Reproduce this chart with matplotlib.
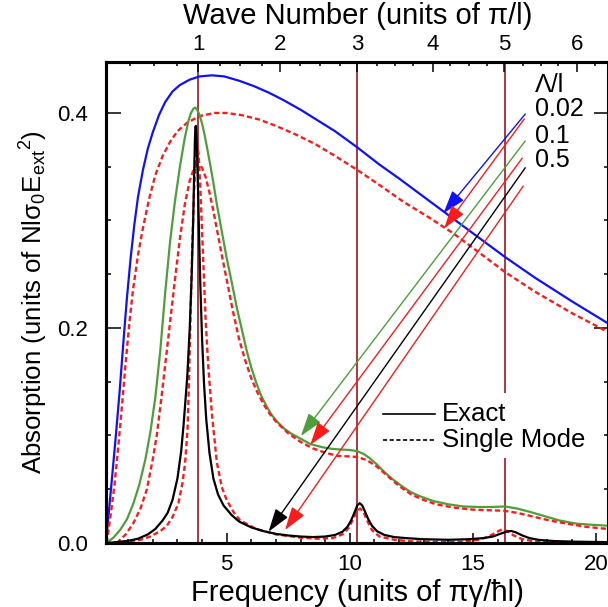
import matplotlib
matplotlib.use("Agg")
import matplotlib.pyplot as plt
from matplotlib.lines import Line2D
from matplotlib.patches import Rectangle

plt.rcParams['font.family'] = ['Liberation Sans', 'DejaVu Sans']

# ---------------- data ----------------
blue_x = [0.1, 0.2, 0.35, 0.5, 0.65, 0.8, 0.95, 1.1, 1.25, 1.4, 1.6, 1.8, 2.0, 2.25, 2.5, 2.8,
          3.1, 3.5, 3.9, 4.4, 4.9, 5.5, 6.1, 6.7, 7.3, 8.0, 8.7, 9.4, 10.3, 11.2, 12.0, 13.0,
          14.0, 15.0, 16.3, 17.5, 19.0, 20.5]
blue_y = [0.0, 0.025, 0.062, 0.1, 0.14, 0.185, 0.228, 0.265, 0.296, 0.322, 0.347, 0.367, 0.382,
          0.398, 0.41, 0.42, 0.426, 0.431, 0.434, 0.435, 0.434, 0.43, 0.425, 0.419, 0.412,
          0.403, 0.393, 0.383, 0.368, 0.352, 0.339, 0.322, 0.305, 0.288, 0.266, 0.247, 0.225,
          0.204]

red02_x = [0.13, 0.3, 0.45, 0.6, 0.75, 0.9, 1.05, 1.2, 1.4, 1.6, 1.85, 2.1, 2.4, 2.7, 3.0, 3.4,
           3.9, 4.5, 5.0, 5.6, 6.3, 7.0, 7.8, 8.6, 9.4, 10.3, 11.2, 12.2, 13.2, 14.2, 15.2, 16.3,
           17.5, 19.0, 20.5]
red02_y = [0.0, 0.028, 0.055, 0.09, 0.128, 0.168, 0.205, 0.236, 0.268, 0.293, 0.32, 0.342, 0.36,
           0.373, 0.383, 0.391, 0.397, 0.4, 0.4, 0.398, 0.394, 0.388, 0.38, 0.371, 0.36, 0.347,
           0.333, 0.317, 0.303, 0.288, 0.271, 0.252, 0.234, 0.214, 0.196]

green_x = [0.13, 0.4, 0.67, 0.95, 1.2, 1.45, 1.7, 1.9, 2.1, 2.3, 2.5, 2.7, 2.9, 3.1, 3.3, 3.45,
           3.55, 3.65, 3.72, 3.8, 3.9, 4.0, 4.1, 4.2, 4.33, 4.46, 4.6, 4.8, 5.0, 5.2, 5.4, 5.6,
           5.8, 6.0, 6.2, 6.4, 6.6, 6.8, 7.0, 7.3, 7.6, 8.0, 8.4, 8.9, 9.3, 9.6, 10.0, 10.28,
           10.55, 10.8, 11.1, 11.4, 11.7, 12.1, 12.5, 12.9, 13.4, 14.0, 14.6, 15.2, 15.8, 16.3,
           16.8, 17.3, 17.9, 18.5, 19.2, 19.8, 20.5]
green_y = [0.0, 0.005, 0.012, 0.022, 0.036, 0.054, 0.078, 0.103, 0.135, 0.178, 0.232, 0.28,
           0.318, 0.35, 0.377, 0.393, 0.4, 0.404, 0.405, 0.403, 0.398, 0.39, 0.38, 0.368, 0.352,
           0.335, 0.315, 0.29, 0.265, 0.243, 0.22, 0.2, 0.18, 0.163, 0.149, 0.137, 0.128, 0.12,
           0.114, 0.107, 0.102, 0.097, 0.092, 0.089, 0.0875, 0.087, 0.0865, 0.0855, 0.083, 0.079,
           0.073, 0.066, 0.06, 0.053, 0.047, 0.043, 0.039, 0.036, 0.034, 0.0335, 0.0335, 0.034,
           0.032, 0.029, 0.025, 0.021, 0.018, 0.017, 0.016]

red01_x = [0.54, 0.9, 1.2, 1.5, 1.76, 2.0, 2.16, 2.35, 2.5, 2.7, 2.9, 3.1, 3.3, 3.5, 3.65, 3.8,
           3.9, 4.0, 4.15, 4.3, 4.45, 4.6, 4.8, 5.0, 5.25, 5.5, 5.75, 6.0, 6.25, 6.5, 6.75, 7.0,
           7.5, 8.0, 8.5, 9.0, 9.5, 10.0, 10.3, 10.7, 11.1, 11.5, 12.0, 12.5, 13.0, 13.5, 14.2,
           15.0, 15.6, 16.25, 16.8, 17.45, 18.1, 18.8, 19.6, 20.5]
red01_y = [0.0, 0.008, 0.018, 0.032, 0.05, 0.078, 0.1, 0.135, 0.165, 0.205, 0.245, 0.283, 0.315,
           0.337, 0.347, 0.352, 0.352, 0.349, 0.34, 0.326, 0.31, 0.292, 0.268, 0.245, 0.216,
           0.19, 0.17, 0.153, 0.14, 0.129, 0.12, 0.113, 0.102, 0.094, 0.088, 0.084, 0.081,
           0.0805, 0.08, 0.077, 0.071, 0.063, 0.053, 0.045, 0.04, 0.036, 0.033, 0.031, 0.0305,
           0.03, 0.028, 0.0245, 0.021, 0.018, 0.015, 0.013]

black_x = [0.13, 0.6, 1.0, 1.4, 1.8, 2.1, 2.4, 2.6, 2.8, 3.0, 3.15, 3.25, 3.3, 3.4, 3.5, 3.58,
           3.64, 3.68, 3.71, 3.73, 3.75, 3.77, 3.8, 3.84, 3.88, 3.93, 4.0, 4.08, 4.17, 4.3, 4.46,
           4.65, 4.87, 5.2, 5.5, 6.0, 6.5, 7.0, 7.5, 8.0, 8.5, 9.0, 9.4, 9.7, 9.9, 10.05, 10.2,
           10.3, 10.4, 10.5, 10.6, 10.75, 10.9, 11.1, 11.4, 11.8, 12.3, 13.0, 14.0, 14.8, 15.4,
           15.8, 16.1, 16.35, 16.55, 16.75, 17.0, 17.3, 17.7, 18.3, 19.2, 20.5]
black_y = [0.0, 0.001, 0.002, 0.004, 0.008, 0.013, 0.021, 0.028, 0.04, 0.06, 0.085, 0.11, 0.125,
           0.155, 0.2, 0.25, 0.3, 0.345, 0.375, 0.387, 0.388, 0.38, 0.36, 0.325, 0.285, 0.24,
           0.19, 0.148, 0.115, 0.084, 0.06, 0.045, 0.035, 0.026, 0.02, 0.0145, 0.011, 0.0085,
           0.007, 0.006, 0.0055, 0.006, 0.0075, 0.0105, 0.015, 0.021, 0.029, 0.035, 0.037,
           0.035, 0.03, 0.022, 0.016, 0.011, 0.0075, 0.0055, 0.0045, 0.0035, 0.003, 0.0035,
           0.0045, 0.006, 0.0085, 0.0105, 0.0112, 0.0098, 0.007, 0.0045, 0.0028, 0.0018,
           0.0012, 0.0008]

red05_x = [0.4, 1.0, 1.5, 1.89, 2.3, 2.57, 2.8, 3.04, 3.2, 3.31, 3.41, 3.47, 3.53, 3.6, 3.67,
           3.74, 3.8, 3.86, 3.93, 4.0, 4.07, 4.15, 4.25, 4.4, 4.6, 4.8, 5.0, 5.3, 5.55, 6.2, 7.0,
           8.0, 8.7, 9.3, 9.7, 9.95, 10.15, 10.3, 10.42, 10.55, 10.7, 10.9, 11.2, 11.8, 12.5,
           13.5, 14.5, 15.2, 15.6, 15.9, 16.17, 16.4, 16.65, 17.0, 17.5, 18.5, 20.5]
red05_y = [0.0, 0.0015, 0.003, 0.006, 0.011, 0.016, 0.024, 0.037, 0.055, 0.074, 0.105, 0.15,
           0.21, 0.275, 0.325, 0.36, 0.37, 0.362, 0.33, 0.29, 0.25, 0.205, 0.165, 0.12, 0.075,
           0.052, 0.04, 0.028, 0.021, 0.013, 0.008, 0.005, 0.004, 0.0045, 0.008, 0.014, 0.023,
           0.03, 0.032, 0.029, 0.021, 0.012, 0.006, 0.003, 0.0015, 0.001, 0.0012, 0.003, 0.0055,
           0.0095, 0.0126, 0.011, 0.007, 0.0035, 0.0015, 0.0005, 0.0]

# top axis: wave number ticks located on the frequency scale
wave_major_labels = ['1', '2', '3', '4', '5', '6']
wave_major_freq = [3.85, 7.17, 10.31, 13.37, 16.26, 19.22]
wave_minor_freq = [1.08, 2.03, 3.0, 4.73, 5.55, 6.43, 7.98, 8.79, 9.58, 11.1, 11.84, 12.58,
                   14.07, 14.82, 15.56, 17.02, 17.75, 18.47, 19.96]
mode_lines_freq = [3.85, 10.31, 16.28]

lambda_labels = ['0.02', '0.1', '0.5']

# ---------------- figure ----------------
fig = plt.figure(figsize=(6.08, 6.07), dpi=100)
ax = fig.add_axes([106/608, (607-543)/607, (608.5-106)/608, (543-62)/607])
xlim = (0.1, 20.5)
ylim = (0.0, 0.4474)

dash = (2.2, 1.3)
for xv in mode_lines_freq:
    ax.axvline(xv, color='#a3141c', lw=1.2, zorder=1)

ax.plot(blue_x, blue_y, color='#1010ff', lw=1.6, zorder=2)
ax.plot(red02_x, red02_y, color='#ff1a1a', lw=1.7, dashes=dash, zorder=2)
ax.plot(green_x, green_y, color='#4e9e3a', lw=1.6, zorder=2)
ax.plot(red01_x, red01_y, color='#ff1a1a', lw=1.7, dashes=dash, zorder=2)
ax.plot(red05_x, red05_y, color='#ff1a1a', lw=1.7, dashes=dash, zorder=2)
ax.plot(black_x, black_y, color='black', lw=1.6, zorder=2)

ax.set_xlim(*xlim)
ax.set_ylim(*ylim)

# arrows from labels to curves
arrows = [
    ((17.12, 0.399), (13.80, 0.3067), '#1010ff'),
    ((17.08, 0.3944), (13.83, 0.2927), '#ff1a1a'),
    ((17.12, 0.374), (8.01, 0.0995), '#4e9e3a'),
    ((17.00, 0.358), (8.39, 0.0912), '#ff1a1a'),
    ((17.12, 0.349), (6.70, 0.0105), 'black'),
    ((17.04, 0.332), (7.37, 0.0121), '#ff1a1a'),
]
for (sx, sy), (tx, ty), c in arrows:
    ax.annotate('', xy=(tx, ty), xytext=(sx, sy),
                arrowprops=dict(arrowstyle='-|>,head_length=0.65,head_width=0.21',
                                mutation_scale=22, color=c, lw=1.0, shrinkA=0, shrinkB=0),
                zorder=6)

ax.text(17.52, 0.426, 'Λ/l', fontsize=18, ha='left', va='center')
for lab, yv in zip(lambda_labels, [0.4037, 0.3786, 0.3563]):
    ax.text(17.52, yv, lab, fontsize=18, ha='left', va='center')

# legend (manual) with white background
ax.add_patch(Rectangle((0.548, 0.177), 0.44, 0.135, transform=ax.transAxes,
                       facecolor='white', edgecolor='none', zorder=3))
ax.add_line(Line2D([0.551, 0.655], [0.268, 0.268], transform=ax.transAxes,
                   color='black', lw=1.2, zorder=4))
ax.add_line(Line2D([0.551, 0.655], [0.214, 0.214], transform=ax.transAxes,
                   color='black', lw=1.2, dashes=(2.5, 1.5), zorder=4))
ax.text(0.668, 0.268, 'Exact', transform=ax.transAxes, fontsize=18.5, va='center', zorder=4)
ax.text(0.668, 0.214, 'Single Mode', transform=ax.transAxes, fontsize=18.5, va='center', zorder=4)

# axes styling
for s in ax.spines.values():
    s.set_linewidth(2.2)
ax.set_xticks([5, 10, 15, 20])
ax.set_xticklabels(['5', '10', '15', '20'])
ax.set_xticks(range(1, 21), minor=True)
ax.set_yticks([0.0, 0.2, 0.4])
ax.set_yticklabels(['0.0', '0.2', '0.4'])
ax.set_yticks([0.05, 0.1, 0.15, 0.25, 0.3, 0.35], minor=True)
ax.tick_params(axis='x', which='major', direction='in', length=7.5, width=1.1, labelsize=16,
               pad=8, top=False)
ax.tick_params(axis='x', which='minor', direction='in', length=3, width=1.1, top=False)
ax.tick_params(axis='y', which='major', direction='in', length=11, width=1.1, labelsize=16,
               pad=13, right=True)
ax.tick_params(axis='y', which='minor', direction='in', length=3.6, width=1.1, right=True)

ax.set_xlabel('Frequency (units of πγ/ħl)', fontsize=21, labelpad=3)
ax.set_ylabel('Absorption (units of Nl$\\mathregular{σ_0{E_{ext}}^2}$)', fontsize=18.6,
              labelpad=5)

top = ax.twiny()
top.set_xlim(*xlim)
top.set_xticks(wave_major_freq)
top.set_xticklabels(wave_major_labels)
top.set_xticks(wave_minor_freq, minor=True)
top.tick_params(axis='x', which='major', direction='in', length=7.5, width=1.1, labelsize=16, pad=5)
top.tick_params(axis='x', which='minor', direction='in', length=3, width=1.1)
for s in top.spines.values():
    s.set_linewidth(2.2)
top.set_xlabel('Wave Number (units of π/l)', fontsize=21, labelpad=7)

fig.savefig('out.png', dpi=100)
